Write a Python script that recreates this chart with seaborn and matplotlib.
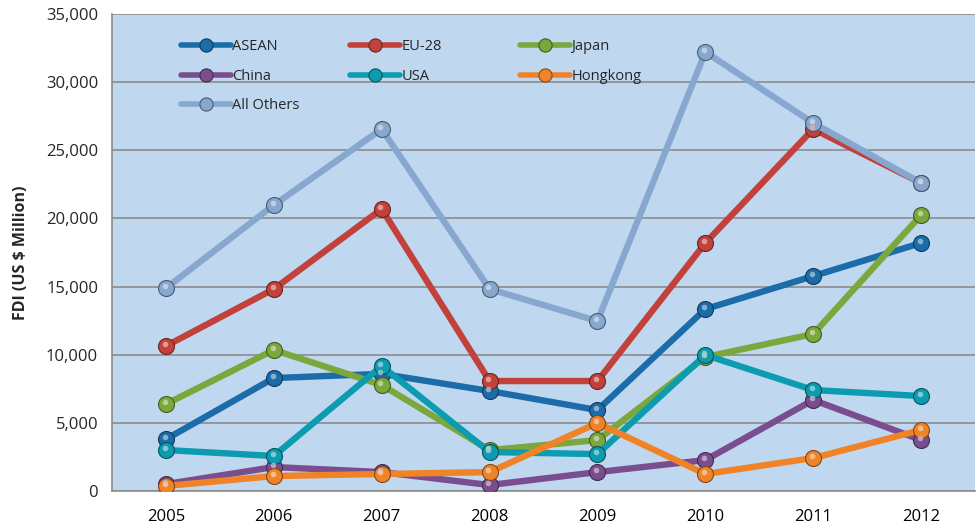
import matplotlib
matplotlib.use("Agg")
import matplotlib.pyplot as plt
from matplotlib.legend import Legend
from matplotlib.ticker import FixedLocator, FuncFormatter
import seaborn as sns
import pandas as pd

years = ["2005", "2006", "2007", "2008", "2009", "2010", "2011", "2012"]

asean = [3800, 8290, 8600, 7340, 5940, 13350, 15770, 18200]
eu28 = [10640, 14820, 20690, 8070, 8070, 18200, 26560, 22600]
japan = [6380, 10350, 7780, 3000, 3740, 9830, 11520, 20250]
china = [510, 1760, 1390, 440, 1390, 2270, 6680, 3740]
usa = [3010, 2570, 9170, 2860, 2710, 9980, 7410, 6970]
hongkong = [370, 1100, 1250, 1390, 4990, 1250, 2420, 4480]
all_others = [14890, 20980, 26560, 14820, 12470, 32210, 27000, 22600]

series_names = ["ASEAN", "EU-28", "Japan", "China", "USA", "Hongkong", "All Others"]
series_values = [asean, eu28, japan, china, usa, hongkong, all_others]
colors = ["#1B6CA8", "#C3413B", "#7BA73C", "#7A4E8E", "#0C9BAF", "#F08328", "#87A7CF"]

rows = []
for name, vals in zip(series_names, series_values):
    for i, v in enumerate(vals):
        rows.append({"pos": i, "year": years[i], "value": v, "series": name})
df = pd.DataFrame(rows)

sns.set_theme(style="white")
plt.rcParams["font.family"] = ["Open Sans", "DejaVu Sans"]

fig = plt.figure(figsize=(9.78, 5.28), dpi=100)
ax = fig.add_axes([0.1145, 0.070, 0.8825, 0.9035])
ax.set_facecolor("#BFD8F0")

palette = dict(zip(series_names, colors))
sns.lineplot(data=df, x="pos", y="value", hue="series", hue_order=series_names,
             palette=palette, linewidth=4.6, marker="o", markersize=11.5,
             markeredgewidth=0.8, legend=False, ax=ax, zorder=3)


def rim(c):
    rgb = matplotlib.colors.to_rgb(c)
    return tuple(x * 0.55 for x in rgb)


def shine(c):
    rgb = matplotlib.colors.to_rgb(c)
    return tuple(min(1, x + (1 - x) * 0.55) for x in rgb)


# darker rims and small highlights on the markers for a glossy look
for line, c in zip(ax.get_lines(), colors):
    line.set_markeredgecolor(rim(c))
offset = matplotlib.transforms.ScaledTranslation(-1.2 / 100, 1.8 / 100, fig.dpi_scale_trans)
for name, vals, c in zip(series_names, series_values, colors):
    ax.plot(range(len(vals)), vals, linestyle="none", marker="o", markersize=4,
            markerfacecolor=shine(c), markeredgewidth=0, alpha=0.85, zorder=3,
            transform=ax.transData + offset)

ax.set_xlim(-0.5, 7.5)
ax.set_ylim(0, 35000)
ax.set_yticks(range(0, 35001, 5000))
ax.yaxis.set_major_formatter(FuncFormatter(lambda v, p: f"{int(v):,}"))
ax.set_xticks(range(len(years)))
ax.set_xticklabels(years)
ax.xaxis.set_minor_locator(FixedLocator([i - 0.5 for i in range(len(years) + 1)]))
ax.tick_params(axis="x", which="major", length=0, pad=13, labelsize=12, colors="black")
ax.tick_params(axis="x", which="minor", length=6, width=1, color="#8C8C8C", direction="out")
ax.tick_params(axis="y", which="major", length=6, width=1, color="#8C8C8C", direction="out",
               labelsize=12, pad=4)
ax.grid(axis="y", color="#8C8C8C", linewidth=1.2, zorder=0)
ax.set_axisbelow(True)
ax.set_xlabel("")
ax.set_ylabel("FDI (US $ Million)", fontsize=11.5, fontweight="bold", labelpad=12)

for side in ["top", "right"]:
    ax.spines[side].set_visible(False)
for side in ["left", "bottom"]:
    ax.spines[side].set_color("#8C8C8C")
    ax.spines[side].set_linewidth(1.2)

handles = {}
for name, c in zip(series_names, colors):
    h, = ax.plot([], [], color=c, linewidth=4, marker="o", markersize=9.5,
                 markeredgecolor=rim(c), markeredgewidth=0.8)
    handles[name] = h

# three evenly spaced legend columns, read row by row
legend_columns = [(["ASEAN", "China", "All Others"], 0.065),
                  (["EU-28", "USA"], 0.2607),
                  (["Japan", "Hongkong"], 0.4577)]
for names, xpos in legend_columns:
    leg = Legend(ax, [handles[n] for n in names], names, loc="upper left",
                 bbox_to_anchor=(xpos, 0.975), frameon=False, fontsize=10.5,
                 handlelength=3.4, handletextpad=0.1, labelspacing=1.0)
    ax.add_artist(leg)

fig.savefig("out.png", dpi=100)
